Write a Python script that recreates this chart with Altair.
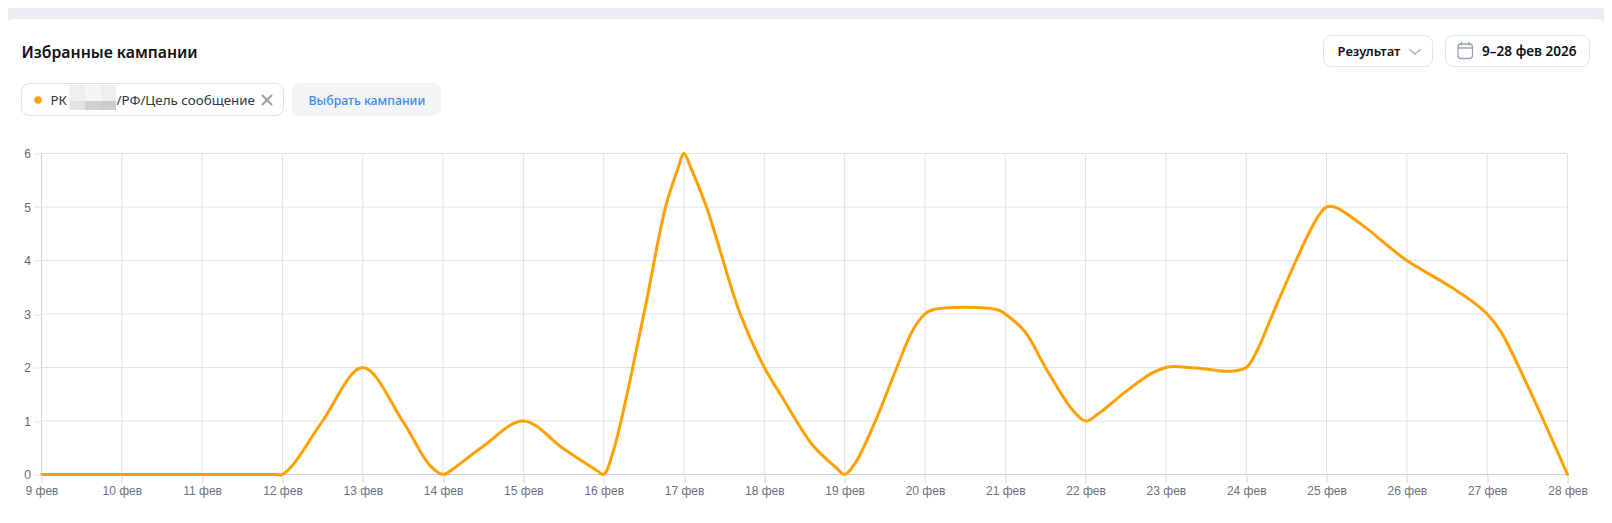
import altair as alt

# ---- chart data ----
days = [9, 10, 11, 12, 13, 14, 15, 16, 17, 18, 19, 20, 21, 22, 23, 24, 25, 26, 27, 28]
values = [0, 0, 0, 0, 2, 0, 1, 0, 6, 2, 0, 3, 3, 1, 2, 2, 5, 4, 3, 0]
# readings of the drawn curve between the days
between_x = [11.9, 12.13, 12.5,
             13.5, 13.83,
             14.12, 14.5,
             15.5, 15.92,
             16.12, 16.5, 16.77, 16.92,
             17.08, 17.28, 17.7,
             18.2, 18.6, 18.9,
             19.13, 19.38, 19.65, 19.85,
             20.08, 20.5, 20.92,
             21.25, 21.5, 21.83,
             22.17, 22.5, 22.83,
             23.1, 23.5, 23.8,
             24.12, 24.33, 24.62, 24.8, 24.92,
             25.1, 25.5, 25.75,
             26.5, 26.8,
             27.17, 27.5, 27.75]
between_y = [0, 0.18, 1.0,
             0.99, 0.18,
             0.1, 0.53,
             0.48, 0.07,
             0.44, 3.0, 5.0, 5.7,
             5.75, 5.0, 3.0,
             1.5, 0.55, 0.12,
             0.21, 0.99, 2.0, 2.7,
             3.07, 3.125, 3.07,
             2.66, 2.0, 1.22,
             1.15, 1.55, 1.9,
             2.02, 1.97, 1.93,
             2.27, 3.0, 4.0, 4.57, 4.88,
             5.0, 4.6, 4.29,
             3.55, 3.25,
             2.67, 1.67, 0.85]
y_ticks = [0, 1, 2, 3, 4, 5, 6]

# ---- page geometry ----
PW, PH = 1596, 507
L, T, W, H = 41.5, 153.5, 1526, 321
OX, OY = L - 8, T - 8

pts = sorted(zip(days + between_x, values + between_y))
line_data = [{"d": a, "v": b} for a, b in pts]
x_scale = alt.Scale(domain=[9, 28], nice=False, zero=False)
y_scale = alt.Scale(domain=[0, 6], nice=False)
ONE = alt.Data(values=[{}])
UI = "Noto Sans"

x_axis = alt.Axis(
    values=days, labelExpr="datum.value + ' фев'", grid=False, domain=False, zindex=1, title=None,
    tickColor="#d5d6da", tickSize=8, labelPadding=3, labelFont="Liberation Sans", labelFontSize=12,
    labelColor="#6b7280", labelOverlap=False, labelFlush=False, labelAngle=0)
y_axis = alt.Axis(
    values=y_ticks, grid=False, domain=False, zindex=1, format="d", title=None,
    tickColor="#e1e2e5", tickSize=8, labelPadding=3, labelFont="Liberation Sans", labelFontSize=12,
    labelColor="#666666")


def rect(x0, x1, y0, y1, fill="#ffffff", stroke=None, r=0, sw=1, no_fill=False):
    kw = {"cornerRadius": r}
    if no_fill:
        kw["fillOpacity"] = 0
        kw["fill"] = "#ffffff"
    else:
        kw["fill"] = fill
    if stroke:
        kw["stroke"] = stroke
        kw["strokeWidth"] = sw
    return alt.Chart(ONE).mark_rect(**kw).encode(
        x=alt.value(x0 - L), x2=alt.value(x1 - L),
        y=alt.value(y0 - T), y2=alt.value(y1 - T))


def seg(x0, y0, x1, y1, color, sw=1.5):
    return alt.Chart(ONE).mark_rule(color=color, strokeWidth=sw, strokeCap="round").encode(
        x=alt.value(x0 - L), x2=alt.value(x1 - L),
        y=alt.value(y0 - T), y2=alt.value(y1 - T))


def label(s, x, y, size=13, weight=400, color="#1f2329", font=UI):
    return alt.Chart(ONE).mark_text(
        text=s, align="left", baseline="alphabetic", fontSize=size,
        fontWeight=weight, color=color, font=font
    ).encode(x=alt.value(x - L), y=alt.value(y - T))


layers = []
# card
layers.append(rect(5, 1606, 20, 520, "#e2e4e9", r=9))
layers.append(rect(5, 1606, 19, 519, "#ffffff", r=9))

# header
layers.append(label("Избранные кампании", 21.5, 58, size=15.8, weight=600, color="#111111"))

# chip
layers.append(rect(21.5, 283.5, 83.5, 115.5, "#ffffff", stroke="#dfe1e6", r=8))
layers.append(alt.Chart(ONE).mark_point(filled=True, size=55, color="#ff9f0a", opacity=1).encode(
    x=alt.value(38 - L), y=alt.value(100 - T)))
layers.append(label("РК", 50.5, 105, size=13.4, color="#33363d"))
blur_cols = [69.5, 85, 101, 116]
for (y0, y1, cols) in [(85, 101, ["#efefef", "#f5f5f5", "#efefef"]),
                       (101, 110, ["#e3e3e3", "#d0d0d0", "#cdcdcd"])]:
    for i, c in enumerate(cols):
        layers.append(rect(blur_cols[i], blur_cols[i + 1], y0, y1, c))
layers.append(label("/РФ/Цель сообщение", 116.5, 105, size=13.4, color="#33363d"))
layers.append(seg(262.5, 95.5, 271.5, 104.5, "#9aa0aa", 2))
layers.append(seg(262.5, 104.5, 271.5, 95.5, "#9aa0aa", 2))

# select button
layers.append(rect(292, 441, 83, 116, "#f3f4f6", r=8))
layers.append(label("Выбрать кампании", 308.5, 105, size=12.3, weight=500, color="#3b8bf0"))

# result dropdown
layers.append(rect(1323.5, 1432.5, 35.5, 66.5, "#ffffff", stroke="#e2e4e9", r=8))
layers.append(label("Результат", 1337.5, 56, size=13, weight=600, color="#111111"))
layers.append(seg(1409.5, 49.5, 1415, 54, "#a8adb8", 1.3))
layers.append(seg(1415, 54, 1420.5, 49.5, "#a8adb8", 1.3))

# date button
layers.append(rect(1445.5, 1589.5, 35.5, 66.5, "#ffffff", stroke="#e2e4e9", r=8))
layers.append(rect(1458, 1472.5, 44, 58.5, stroke="#9aa3b2", r=3, sw=1.3, no_fill=True))
layers.append(seg(1458, 48, 1472.5, 48, "#9aa3b2", 1.3))
layers.append(seg(1461.5, 42.5, 1461.5, 45, "#9aa3b2", 1.3))
layers.append(seg(1469, 42.5, 1469, 45, "#9aa3b2", 1.3))
layers.append(label("9–28 фев 2026", 1482, 56, size=13.6, weight=600, color="#111111"))

# grid
x_grid = alt.Chart(alt.Data(values=[{"d": d} for d in days])).mark_rule(color="#e1e2e5", strokeWidth=1).encode(
    x=alt.X("d:Q", scale=x_scale, axis=x_axis))
y_grid = alt.Chart(alt.Data(values=[{"v": v} for v in y_ticks])).mark_rule(color="#e1e2e5", strokeWidth=1).encode(
    y=alt.Y("v:Q", scale=y_scale, axis=y_axis))
x_dom = alt.Chart(alt.Data(values=[{"d": 9}])).mark_rule(color="#cfd0d4", strokeWidth=1).encode(
    x=alt.X("d:Q", scale=x_scale, axis=x_axis))
y_dom = alt.Chart(alt.Data(values=[{"v": 0}])).mark_rule(color="#cfd0d4", strokeWidth=1).encode(
    y=alt.Y("v:Q", scale=y_scale, axis=y_axis))
layers += [x_grid, y_grid, x_dom, y_dom]

# series
line = alt.Chart(alt.Data(values=line_data)).mark_line(
    interpolate="catmull-rom", color="#ff9f00", strokeWidth=3, strokeCap="round", strokeJoin="round"
).encode(
    x=alt.X("d:Q", scale=x_scale, axis=x_axis),
    y=alt.Y("v:Q", scale=y_scale, axis=y_axis),
)
layers.append(line)

chart = alt.layer(*layers).properties(
    width=W, height=H,
    background="#eaecf0",
    autosize=alt.AutoSizeParams(type="none"),
    padding={"left": OX, "top": OY, "right": PW - OX - W, "bottom": PH - OY - H},
).configure_view(stroke=None)

chart.save("out.html", embed_options={"renderer": "svg", "actions": False})
